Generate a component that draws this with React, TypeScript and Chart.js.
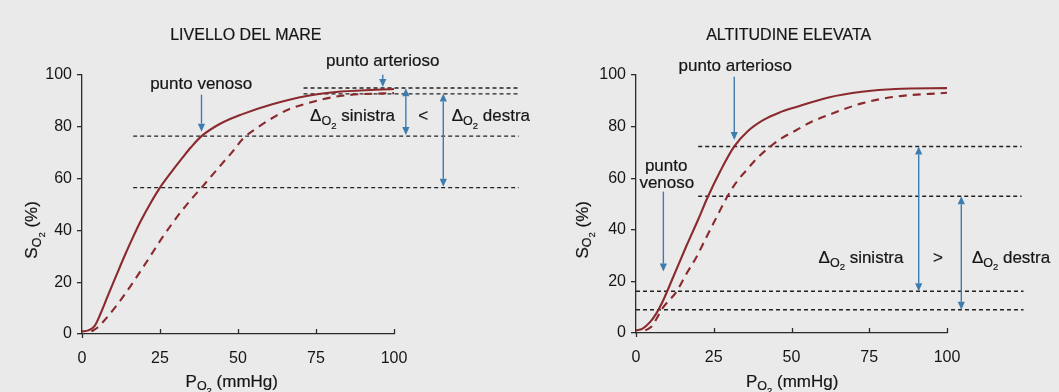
import React, { useEffect, useRef } from "react";
import { Chart, registerables } from "chart.js";

Chart.register(...registerables);

type Pt = [number, number];
type Part = { t: string; s: number; dy?: number };
type Txt = { parts: Part[]; x: number; y: number; align?: "left" | "center" | "right"; rot?: boolean };
type Arw = { x: number; from: number; to: number; both?: boolean };

// ---------- shared axes ----------
const xTickStep = 25;
const yTickStep = 20;
const axisMin = 0;
const axisMax = 100;

// ---------- LIVELLO DEL MARE (left) ----------
const seaTitle = "LIVELLO DEL MARE";
const seaSolid: Pt[] = [
  [0, 1], [2, 1.4], [4, 3], [6, 8], [8.3, 14.8], [11, 22.6], [13.7, 30.3], [16.5, 37.8], [19, 44],
  [22, 50.6], [25, 56.5], [28.5, 62.3], [31.9, 67.6], [35, 72.2], [38.3, 76.4], [44, 81], [51, 84.7],
  [61, 88.7], [72, 91.9], [83, 93.6], [100, 94.6],
];
const seaDashed: Pt[] = [
  [3, 1], [5, 2.5], [7.3, 5.4], [11.6, 11.8], [15, 17.5], [19, 24.7], [22.5, 31.2], [25.5, 36.8],
  [29, 42.8], [32, 47.6], [35, 52], [38.3, 56.5], [41.5, 61], [44.7, 65.5], [48, 70], [51.5, 75.3],
  [56, 79.5], [61.3, 83.6], [66, 86.6], [72, 89], [82.7, 91.9], [96.6, 92.9], [100, 93],
];
const seaLevels = [95, 92.7, 76.4, 56.5];
const seaLevelFrom = [71, 71, 16.4, 16.4];
const seaLevelTo = [140, 140, 140, 140];
const seaArrows: Arw[] = [
  { x: 38.3, from: 92.4, to: 78.1 },
  { x: 96.4, from: 100.1, to: 95.4 },
  { x: 103.8, from: 94.9, to: 76.8, both: true },
  { x: 115.8, from: 92.9, to: 56.9, both: true },
];

// ---------- ALTITUDINE ELEVATA (right) ----------
const altTitle = "ALTITUDINE ELEVATA";
const altSolid: Pt[] = [
  [0, 1], [2, 1.6], [4.5, 4.2], [6.5, 7.5], [8.8, 12.8], [12, 21.8], [16.3, 34], [20, 44], [23, 52.5],
  [27, 62.5], [31.6, 72.3], [36, 78.3], [41, 82.6], [46, 85.4], [51.5, 87.6], [61.9, 91.3],
  [72.6, 93.5], [83.4, 94.6], [100, 94.9],
];
const altDashed: Pt[] = [
  [3, 1], [5, 2.5], [6.7, 5.7], [8.3, 9.2], [13.1, 16.2], [16, 22.5], [19.5, 29.6], [22, 35.6],
  [24.9, 42.5], [29.2, 52.5], [32, 58], [35.6, 63.2], [39, 67.8], [43.1, 72.2], [47, 75.6],
  [51.5, 78.6], [56, 81.6], [61.9, 84.5], [72.6, 89], [83.4, 91.6], [100, 93.1],
];
const altLevels = [72.3, 53, 16.2, 9];
const altLevelFrom = [20, 20, 0, 0];
const altLevelTo = [124, 124, 124.6, 124.6];
const altArrows: Arw[] = [
  { x: 31.6, from: 99.3, to: 74.8 },
  { x: 8.8, from: 54.8, to: 23.8 },
  { x: 90.9, from: 72.3, to: 16.2, both: true },
  { x: 104.6, from: 53, to: 9, both: true },
];

// ---------- styles ----------
const FONT = "'Liberation Sans', Arial, sans-serif";
const INK = "#161616";
const AXIS = "#2a2a2a";
const CURVE = "#8a2a2e";
const ARROW = "#3f7cae";
const LEVEL = "#222222";
const BG = "#eaeaea";

const withO2 = (main: string, rest: string, s = 17): Part[] => [
  { t: main, s },
  { t: "O", s: 12.5, dy: 5 },
  { t: "2", s: 9.5, dy: 9.5 },
  { t: rest, s },
];
const plain = (t: string, s = 17): Part[] => [{ t, s }];

const seaTexts: Txt[] = [
  { parts: plain(seaTitle, 16), x: 52.5, y: 115.3 },
  { parts: plain("punto venoso"), x: 38.2, y: 96.3 },
  { parts: plain("punto arterioso"), x: 96.4, y: 105.1 },
  { parts: withO2("\u0394", " sinistra"), x: 73.1, y: 83.9, align: "left" },
  { parts: plain("<"), x: 109.4, y: 83.9 },
  { parts: withO2("\u0394", " destra"), x: 118.5, y: 83.9, align: "left" },
  { parts: withO2("P", " (mmHg)"), x: 48, y: -18.5 },
  { parts: withO2("S", " (%)"), x: -15.8, y: 40.2, rot: true },
];
const altTexts: Txt[] = [
  { parts: plain(altTitle, 16), x: 49.1, y: 115.3 },
  { parts: plain("punto arterioso"), x: 31.9, y: 103.5 },
  { parts: plain("punto"), x: 9.7, y: 64.7 },
  { parts: plain("venoso"), x: 9.9, y: 58.1 },
  { parts: withO2("\u0394", " sinistra"), x: 58.7, y: 29, align: "left" },
  { parts: plain(">"), x: 97.1, y: 29 },
  { parts: withO2("\u0394", " destra"), x: 108, y: 29, align: "left" },
  { parts: withO2("P", " (mmHg)"), x: 50.2, y: -19 },
  { parts: withO2("S", " (%)"), x: -17.1, y: 40, rot: true },
];

function drawRich(ctx: CanvasRenderingContext2D, parts: Part[], x: number, y: number, align: string, rot: boolean) {
  ctx.save();
  ctx.translate(x, y);
  if (rot) ctx.rotate(-Math.PI / 2);
  let w = 0;
  const widths = parts.map((p) => {
    ctx.font = `${p.s}px ${FONT}`;
    const m = ctx.measureText(p.t).width;
    w += m;
    return m;
  });
  let cx = align === "left" ? 0 : align === "right" ? -w : -w / 2;
  ctx.textBaseline = "middle";
  ctx.textAlign = "left";
  ctx.fillStyle = INK;
  ctx.strokeStyle = INK;
  ctx.lineWidth = 0.2;
  parts.forEach((p, i) => {
    ctx.font = `${p.s}px ${FONT}`;
    ctx.fillText(p.t, cx, p.dy || 0);
    ctx.strokeText(p.t, cx, p.dy || 0);
    cx += widths[i];
  });
  ctx.restore();
}

function makeOverlay(texts: Txt[], arrows: Arw[]) {
  return {
    id: "overlay",
    afterDraw(chart: any) {
      const { ctx, chartArea } = chart;
      const xs = chart.scales.x;
      const ys = chart.scales.y;
      const px = (v: number) => xs.getPixelForValue(v);
      const py = (v: number) => ys.getPixelForValue(v);
      ctx.save();
      // x ticks pointing up into the plot
      ctx.strokeStyle = AXIS;
      ctx.lineWidth = 1.3;
      xs.ticks.forEach((t: any) => {
        const X = Math.round(px(t.value)) + 0.5;
        ctx.beginPath();
        if (t.value === axisMin) {
          ctx.moveTo(X, chartArea.bottom);
          ctx.lineTo(X, chartArea.bottom + 4);
        } else {
          ctx.moveTo(X, chartArea.bottom);
          ctx.lineTo(X, chartArea.bottom - 5);
        }
        ctx.stroke();
      });
      // arrows
      ctx.strokeStyle = ARROW;
      ctx.fillStyle = ARROW;
      ctx.lineWidth = 1.4;
      const head = 8;
      const hw = 3.6;
      arrows.forEach((a) => {
        const X = px(a.x);
        const y1 = py(a.from);
        const y2 = py(a.to);
        const dir = Math.sign(y2 - y1);
        const s1 = a.both ? y1 + dir * head : y1;
        const s2 = y2 - dir * head;
        ctx.beginPath();
        ctx.moveTo(X, s1);
        ctx.lineTo(X, s2);
        ctx.stroke();
        const tri = (tip: number, d: number) => {
          ctx.beginPath();
          ctx.moveTo(X, tip);
          ctx.lineTo(X - hw, tip - d * head);
          ctx.lineTo(X + hw, tip - d * head);
          ctx.closePath();
          ctx.fill();
        };
        tri(y2, dir);
        if (a.both) tri(y1, -dir);
      });
      // texts
      texts.forEach((t) => drawRich(ctx, t.parts, px(t.x), py(t.y), t.align || "center", !!t.rot));
      ctx.restore();
    },
  };
}

type PanelCfg = {
  solid: Pt[];
  dashed: Pt[];
  levels: number[];
  from: number[];
  to: number[];
  texts: Txt[];
  arrows: Arw[];
  yAxisWidth: number;
  xAxisHeight: number;
  padRight: number;
  padTop: number;
};

function Panel({ left, width, cfg }: { left: number; width: number; cfg: PanelCfg }) {
  const ref = useRef<HTMLCanvasElement>(null);
  useEffect(() => {
    const levelSets = cfg.levels.map((v, i) => ({
      data: [
        { x: cfg.from[i], y: v },
        { x: cfg.to[i], y: v },
      ],
      borderColor: LEVEL,
      borderWidth: 1.4,
      borderDash: [4, 3],
      pointRadius: 0,
      clip: false as any,
      order: 3,
    }));
    const chart = new Chart(ref.current as HTMLCanvasElement, {
      type: "line",
      data: {
        datasets: [
          ...levelSets,
          {
            data: cfg.dashed.map(([x, y]) => ({ x, y })),
            borderColor: CURVE,
            borderWidth: 2.1,
            borderDash: [8, 6],
            pointRadius: 0,
            cubicInterpolationMode: "monotone",
            order: 2,
          },
          {
            data: cfg.solid.map(([x, y]) => ({ x, y })),
            borderColor: CURVE,
            borderWidth: 2.1,
            pointRadius: 0,
            cubicInterpolationMode: "monotone",
            order: 1,
          },
        ] as any,
      },
      options: {
        animation: false,
        responsive: false,
        maintainAspectRatio: false,
        events: [],
        layout: { padding: { left: 0, top: cfg.padTop, right: cfg.padRight, bottom: 0 } },
        plugins: { legend: { display: false }, tooltip: { enabled: false }, title: { display: false } },
        scales: {
          x: {
            type: "linear",
            min: axisMin,
            max: axisMax,
            ticks: { stepSize: xTickStep, color: INK, font: { size: 16, family: FONT }, padding: 7, maxRotation: 0 },
            grid: { display: false },
            border: { display: true, color: AXIS, width: 1.3 },
            afterFit: (s: any) => {
              s.height = cfg.xAxisHeight;
            },
          },
          y: {
            type: "linear",
            min: axisMin,
            max: axisMax,
            ticks: { stepSize: yTickStep, color: INK, font: { size: 16, family: FONT }, padding: 5 },
            grid: { drawOnChartArea: false, drawTicks: true, tickLength: 5, color: AXIS, lineWidth: 1.3 },
            border: { display: true, color: AXIS, width: 1.3 },
            afterFit: (s: any) => {
              s.width = cfg.yAxisWidth;
            },
          },
        },
      } as any,
      plugins: [makeOverlay(cfg.texts, cfg.arrows)],
    });
    return () => chart.destroy();
  }, []);
  return (
    <canvas
      ref={ref}
      width={width}
      height={392}
      style={{ position: "absolute", left, top: 0, width, height: 392 }}
    />
  );
}

export default function App() {
  const sea: PanelCfg = {
    solid: seaSolid,
    dashed: seaDashed,
    levels: seaLevels,
    from: seaLevelFrom,
    to: seaLevelTo,
    texts: seaTexts,
    arrows: seaArrows,
    yAxisWidth: 82,
    xAxisHeight: 58,
    padRight: 136,
    padTop: 75,
  };
  const alt: PanelCfg = {
    solid: altSolid,
    dashed: altDashed,
    levels: altLevels,
    from: altLevelFrom,
    to: altLevelTo,
    texts: altTexts,
    arrows: altArrows,
    yAxisWidth: 106,
    xAxisHeight: 59,
    padRight: 112,
    padTop: 75,
  };
  return (
    <div style={{ position: "absolute", left: 0, top: 0, width: 1059, height: 392, background: BG, overflow: "hidden" }}>
      <Panel left={0} width={530} cfg={sea} />
      <Panel left={530} width={529} cfg={alt} />
    </div>
  );
}
